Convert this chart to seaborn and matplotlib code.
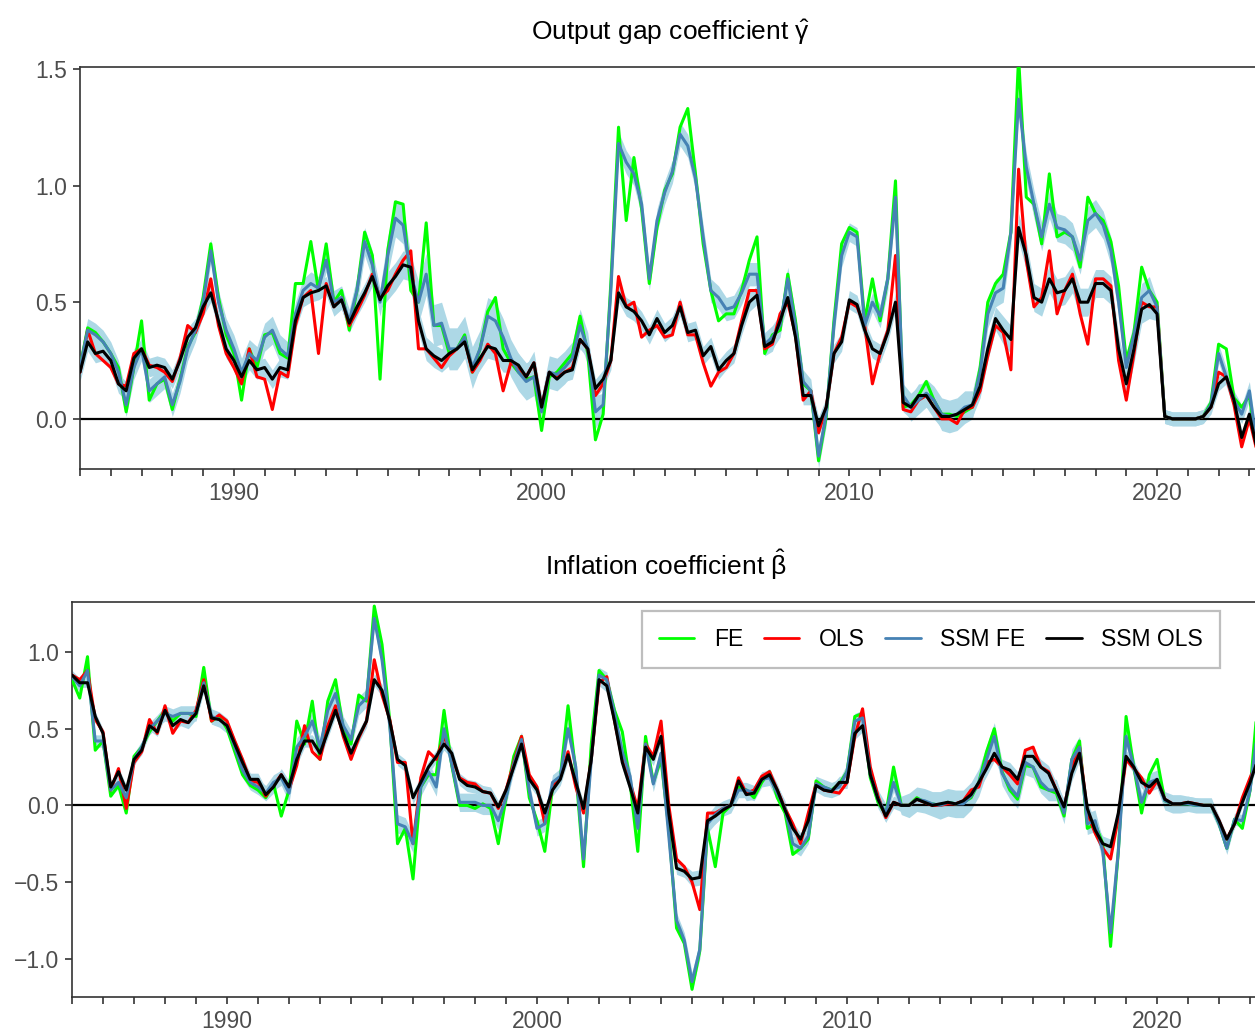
import numpy as np
import pandas as pd
import matplotlib
matplotlib.use("Agg")
import matplotlib.pyplot as plt
from matplotlib.lines import Line2D
import seaborn as sns

# Quarterly observation dates, 1985Q1 .. 2023Q2
quarters = 1985.0 + 0.25 * np.arange(154)
years = np.arange(1985, 2024)

# ---- Output gap coefficient (gamma) ----
gamma_fe = [
    0.22, 0.39, 0.37, 0.33,  0.28, 0.22, 0.03, 0.22,  0.42, 0.08, 0.15, 0.17,
    0.04, 0.17, 0.31, 0.37,  0.52, 0.75, 0.52, 0.36,  0.28, 0.08, 0.30, 0.22,
    0.36, 0.37, 0.28, 0.26,  0.58, 0.58, 0.76, 0.55,  0.75, 0.50, 0.55, 0.38,
    0.55, 0.80, 0.70, 0.17,  0.72, 0.93, 0.92, 0.55,  0.50, 0.84, 0.40, 0.40,
    0.28, 0.30, 0.36, 0.20,  0.30, 0.46, 0.52, 0.30,  0.24, 0.20, 0.17, 0.18,
    -0.05, 0.18, 0.20, 0.24, 0.28, 0.44, 0.28, -0.09, 0.02, 0.58, 1.25, 0.85,
    1.12, 0.90, 0.58, 0.82,  0.98, 1.05, 1.25, 1.33,  1.05, 0.75, 0.55, 0.42,
    0.45, 0.45, 0.55, 0.68,  0.78, 0.28, 0.36, 0.38,  0.62, 0.42, 0.15, 0.12,
    -0.18, 0.01, 0.42, 0.75, 0.82, 0.80, 0.42, 0.60,  0.42, 0.60, 1.02, 0.05,
    0.06, 0.10, 0.16, 0.08,  0.02, 0.02, 0.01, 0.03,  0.05, 0.22, 0.50, 0.58,
    0.62, 0.80, 1.55, 0.95,  0.92, 0.75, 1.05, 0.78,  0.80, 0.78, 0.65, 0.95,
    0.88, 0.85, 0.76, 0.57,  0.25, 0.37, 0.65, 0.55,  0.50, 0.01, 0.00, 0.00,
    0.00, 0.00, 0.01, 0.07,  0.32, 0.30, 0.09, 0.05,  0.10, -0.15,
]
gamma_ols = [
    0.20, 0.38, 0.28, 0.25,  0.22, 0.15, 0.14, 0.28,  0.30, 0.23, 0.22, 0.20,
    0.16, 0.26, 0.40, 0.37,  0.45, 0.60, 0.40, 0.28,  0.22, 0.15, 0.30, 0.18,
    0.17, 0.04, 0.20, 0.18,  0.40, 0.52, 0.55, 0.28,  0.58, 0.48, 0.52, 0.40,
    0.46, 0.53, 0.62, 0.52,  0.55, 0.62, 0.68, 0.72,  0.30, 0.30, 0.26, 0.22,
    0.27, 0.30, 0.34, 0.20,  0.25, 0.32, 0.28, 0.12,  0.24, 0.22, 0.18, 0.24,
    0.05, 0.20, 0.18, 0.20,  0.22, 0.34, 0.30, 0.10,  0.15, 0.25, 0.61, 0.48,
    0.50, 0.35, 0.38, 0.40,  0.35, 0.36, 0.50, 0.36,  0.36, 0.24, 0.14, 0.20,
    0.22, 0.28, 0.42, 0.55,  0.55, 0.30, 0.32, 0.45,  0.50, 0.36, 0.08, 0.12,
    -0.06, 0.05, 0.28, 0.35, 0.50, 0.48, 0.40, 0.15,  0.28, 0.38, 0.70, 0.04,
    0.03, 0.08, 0.10, 0.05,  0.00, 0.00, -0.02, 0.04, 0.05, 0.12, 0.27, 0.40,
    0.37, 0.21, 1.07, 0.68,  0.48, 0.52, 0.72, 0.45,  0.55, 0.62, 0.45, 0.32,
    0.60, 0.60, 0.57, 0.25,  0.08, 0.28, 0.50, 0.48,  0.48, 0.01, 0.00, 0.00,
    0.00, 0.00, 0.01, 0.05,  0.20, 0.18, 0.06, -0.12, 0.00, -0.14,
]
gamma_ssm_fe = [
    0.22, 0.38, 0.36, 0.33,  0.28, 0.20, 0.06, 0.22,  0.30, 0.12, 0.15, 0.18,
    0.06, 0.16, 0.30, 0.38,  0.50, 0.72, 0.50, 0.38,  0.30, 0.20, 0.28, 0.25,
    0.35, 0.38, 0.30, 0.27,  0.45, 0.55, 0.58, 0.56,  0.68, 0.50, 0.52, 0.42,
    0.55, 0.76, 0.66, 0.50,  0.70, 0.86, 0.83, 0.62,  0.50, 0.62, 0.40, 0.41,
    0.30, 0.30, 0.35, 0.22,  0.30, 0.44, 0.42, 0.35,  0.26, 0.20, 0.16, 0.18,
    0.03, 0.20, 0.19, 0.22,  0.26, 0.40, 0.30, 0.03,  0.06, 0.55, 1.18, 1.10,
    1.05, 0.92, 0.60, 0.85,  0.97, 1.06, 1.22, 1.17,  1.03, 0.78, 0.55, 0.52,
    0.47, 0.48, 0.54, 0.62,  0.62, 0.32, 0.35, 0.40,  0.60, 0.40, 0.16, 0.12,
    -0.16, 0.02, 0.40, 0.70, 0.80, 0.78, 0.40, 0.50,  0.44, 0.60, 0.95, 0.10,
    0.05, 0.08, 0.11, 0.08,  0.02, 0.01, 0.02, 0.05,  0.06, 0.20, 0.45, 0.54,
    0.56, 0.80, 1.37, 1.08,  0.92, 0.78, 0.92, 0.82,  0.81, 0.78, 0.68, 0.85,
    0.88, 0.83, 0.72, 0.50,  0.22, 0.36, 0.52, 0.55,  0.48, 0.01, 0.00, 0.00,
    0.00, 0.00, 0.01, 0.06,  0.28, 0.18, 0.08, 0.02,  0.12, -0.12,
]
gamma_ssm_ols = [
    0.20, 0.33, 0.28, 0.29,  0.25, 0.15, 0.12, 0.26,  0.30, 0.22, 0.23, 0.22,
    0.17, 0.25, 0.35, 0.39,  0.48, 0.54, 0.42, 0.30,  0.25, 0.18, 0.25, 0.21,
    0.22, 0.17, 0.22, 0.21,  0.42, 0.52, 0.54, 0.55,  0.57, 0.48, 0.51, 0.41,
    0.48, 0.54, 0.61, 0.51,  0.57, 0.61, 0.66, 0.65,  0.42, 0.30, 0.27, 0.25,
    0.28, 0.30, 0.33, 0.21,  0.26, 0.31, 0.30, 0.25,  0.25, 0.23, 0.18, 0.24,
    0.05, 0.20, 0.17, 0.20,  0.21, 0.34, 0.30, 0.13,  0.17, 0.25, 0.54, 0.48,
    0.46, 0.42, 0.36, 0.43,  0.37, 0.40, 0.48, 0.37,  0.38, 0.27, 0.31, 0.21,
    0.25, 0.28, 0.40, 0.50,  0.53, 0.31, 0.33, 0.42,  0.52, 0.35, 0.10, 0.10,
    -0.03, 0.05, 0.28, 0.33, 0.51, 0.49, 0.38, 0.30,  0.28, 0.37, 0.50, 0.07,
    0.05, 0.10, 0.10, 0.05,  0.01, 0.01, 0.02, 0.04,  0.06, 0.14, 0.30, 0.43,
    0.38, 0.34, 0.82, 0.70,  0.52, 0.50, 0.60, 0.54,  0.55, 0.60, 0.50, 0.50,
    0.58, 0.58, 0.55, 0.30,  0.15, 0.30, 0.47, 0.49,  0.45, 0.01, 0.00, 0.00,
    0.00, 0.00, 0.01, 0.05,  0.15, 0.18, 0.08, -0.08, 0.02, -0.13,
]
# yearly standard errors of the state-space estimates
gamma_se_fe = [0.05, 0.05, 0.05, 0.05, 0.05, 0.06, 0.06, 0.05, 0.05, 0.06,
               0.08, 0.09, 0.09, 0.08, 0.08, 0.07, 0.07, 0.05, 0.05, 0.05,
               0.05, 0.05, 0.05, 0.05, 0.05, 0.04, 0.05, 0.06, 0.07, 0.06,
               0.06, 0.06, 0.06, 0.06, 0.06, 0.03, 0.03, 0.04, 0.04]
gamma_se_ols = [0.04, 0.04, 0.04, 0.04, 0.04, 0.04, 0.04, 0.04, 0.04, 0.04,
                0.06, 0.05, 0.05, 0.05, 0.05, 0.04, 0.04, 0.04, 0.04, 0.04,
                0.04, 0.04, 0.04, 0.04, 0.04, 0.04, 0.04, 0.05, 0.05, 0.05,
                0.06, 0.06, 0.06, 0.06, 0.06, 0.03, 0.03, 0.03, 0.03]

# ---- Inflation coefficient (beta) ----
beta_fe = [
    0.82, 0.70, 0.97, 0.36,  0.42, 0.06, 0.13, -0.05, 0.32, 0.38, 0.48, 0.55,
    0.62, 0.55, 0.60, 0.60,  0.58, 0.90, 0.55, 0.58,  0.50, 0.35, 0.20, 0.13,
    0.10, 0.05, 0.14, -0.07, 0.10, 0.55, 0.40, 0.68,  0.30, 0.68, 0.82, 0.50,
    0.40, 0.72, 0.68, 1.30,  1.05, 0.55, -0.25, -0.15, -0.48, 0.12, 0.20, 0.20,
    0.62, 0.26, 0.00, 0.00,  -0.02, 0.01, -0.02, -0.25, 0.05, 0.32, 0.45, 0.05,
    -0.10, -0.30, 0.12, 0.18, 0.65, 0.22, -0.40, 0.40, 0.88, 0.82, 0.62, 0.48,
    0.15, -0.30, 0.45, 0.15, 0.30, -0.15, -0.80, -0.90, -1.20, -0.95, -0.15, -0.40,
    -0.05, 0.00, 0.12, 0.10, 0.05, 0.15, 0.22, 0.05,  -0.05, -0.32, -0.28, -0.22,
    0.16, 0.12, 0.10, 0.14,  0.22, 0.58, 0.60, 0.18,  0.02, -0.06, 0.25, 0.00,
    0.00, 0.05, 0.02, 0.01,  0.00, 0.02, 0.01, 0.02,  0.05, 0.15, 0.35, 0.50,
    0.22, 0.10, 0.04, 0.26,  0.25, 0.12, 0.10, 0.08,  -0.07, 0.30, 0.42, -0.15,
    -0.12, -0.25, -0.92, -0.30, 0.58, 0.25, -0.05, 0.20, 0.30, 0.03, 0.01, 0.01,
    0.01, 0.00, 0.00, 0.00,  -0.12, -0.28, -0.09, -0.15, 0.10, 0.68,
]
beta_ols = [
    0.85, 0.82, 0.88, 0.56,  0.48, 0.10, 0.24, -0.02, 0.28, 0.35, 0.56, 0.47,
    0.65, 0.47, 0.55, 0.54,  0.62, 0.82, 0.55, 0.59,  0.55, 0.42, 0.30, 0.16,
    0.15, 0.06, 0.13, 0.20,  0.10, 0.26, 0.52, 0.35,  0.30, 0.52, 0.65, 0.45,
    0.30, 0.44, 0.55, 0.95,  0.72, 0.56, 0.28, 0.28,  -0.25, 0.18, 0.35, 0.30,
    0.45, 0.32, 0.18, 0.15,  0.14, 0.09, 0.08, -0.02, 0.10, 0.28, 0.45, 0.20,
    0.12, -0.12, 0.12, 0.18, 0.35, 0.12, -0.05, 0.30, 0.80, 0.84, 0.55, 0.30,
    0.15, -0.02, 0.40, 0.32, 0.55, 0.00, -0.35, -0.40, -0.50, -0.68, -0.05, -0.05,
    -0.02, 0.00, 0.18, 0.08, 0.10, 0.19, 0.22, 0.10,  -0.02, -0.12, -0.25, -0.05,
    0.14, 0.10, 0.09, 0.08,  0.15, 0.45, 0.63, 0.25,  0.06, -0.08, 0.02, 0.00,
    0.00, 0.04, 0.02, 0.00,  0.00, 0.01, 0.01, 0.03,  0.10, 0.12, 0.28, 0.30,
    0.25, 0.20, 0.14, 0.36,  0.38, 0.25, 0.22, 0.10,  -0.02, 0.24, 0.38, -0.05,
    -0.18, -0.28, -0.35, -0.08, 0.30, 0.24, 0.18, 0.08, 0.16, 0.04, 0.01, 0.01,
    0.02, 0.01, 0.00, 0.00,  -0.10, -0.22, -0.12, 0.05, 0.18, 0.30,
]
beta_ssm_fe = [
    0.84, 0.78, 0.88, 0.42,  0.42, 0.10, 0.15, 0.05,  0.30, 0.38, 0.50, 0.55,
    0.60, 0.58, 0.60, 0.60,  0.60, 0.80, 0.58, 0.56,  0.52, 0.38, 0.23, 0.15,
    0.12, 0.08, 0.15, 0.18,  0.08, 0.38, 0.45, 0.55,  0.38, 0.62, 0.73, 0.52,
    0.43, 0.65, 0.70, 1.22,  0.95, 0.52, -0.12, -0.14, -0.25, 0.12, 0.22, 0.12,
    0.50, 0.27, 0.02, 0.02,  0.02, 0.00, 0.00, -0.10, 0.05, 0.27, 0.43, 0.10,
    -0.15, -0.12, 0.15, 0.19, 0.50, 0.25, -0.35, 0.30, 0.85, 0.82, 0.60, 0.35,
    0.19, -0.15, 0.40, 0.14, 0.34, -0.20, -0.75, -0.88, -1.15, -0.94, -0.12, -0.06,
    -0.02, 0.00, 0.10, 0.10, 0.08, 0.17, 0.18, 0.08,  -0.02, -0.25, -0.28, -0.20,
    0.14, 0.12, 0.10, 0.12,  0.22, 0.55, 0.57, 0.20,  0.04, -0.05, 0.15, 0.00,
    0.00, 0.04, 0.03, 0.01,  0.00, 0.02, 0.01, 0.01,  0.06, 0.15, 0.30, 0.45,
    0.21, 0.12, 0.06, 0.28,  0.25, 0.15, 0.10, 0.10,  -0.05, 0.30, 0.38, -0.12,
    -0.10, -0.30, -0.83, -0.30, 0.45, 0.25, 0.02, 0.15, 0.17, 0.03, 0.01, 0.01,
    0.01, 0.00, 0.00, 0.00,  -0.12, -0.28, -0.09, -0.10, 0.10, 0.50,
]
beta_ssm_ols = [
    0.85, 0.80, 0.80, 0.58,  0.47, 0.12, 0.22, 0.10,  0.30, 0.36, 0.52, 0.48,
    0.62, 0.52, 0.56, 0.54,  0.60, 0.78, 0.57, 0.56,  0.52, 0.40, 0.28, 0.17,
    0.17, 0.07, 0.12, 0.20,  0.12, 0.30, 0.42, 0.42,  0.34, 0.48, 0.62, 0.47,
    0.34, 0.45, 0.55, 0.82,  0.75, 0.55, 0.30, 0.26,  0.05, 0.15, 0.25, 0.32,
    0.40, 0.34, 0.17, 0.13,  0.12, 0.09, 0.08, -0.01, 0.10, 0.25, 0.40, 0.17,
    0.10, -0.05, 0.10, 0.17, 0.33, 0.15, -0.02, 0.30, 0.82, 0.78, 0.55, 0.28,
    0.12, -0.05, 0.38, 0.30, 0.45, -0.05, -0.41, -0.43, -0.48, -0.47, -0.10, -0.07,
    -0.03, 0.00, 0.16, 0.07, 0.08, 0.17, 0.20, 0.10,  -0.03, -0.15, -0.22, -0.10,
    0.13, 0.10, 0.09, 0.15,  0.15, 0.47, 0.52, 0.20,  0.04, -0.07, 0.02, 0.00,
    0.00, 0.04, 0.02, 0.00,  0.01, 0.02, 0.01, 0.03,  0.07, 0.15, 0.24, 0.34,
    0.25, 0.23, 0.17, 0.32,  0.32, 0.25, 0.21, 0.10,  -0.01, 0.21, 0.34, -0.02,
    -0.16, -0.25, -0.27, -0.05, 0.32, 0.25, 0.15, 0.12, 0.17, 0.04, 0.01, 0.01,
    0.02, 0.01, 0.00, 0.00,  -0.10, -0.22, -0.12, 0.02, 0.15, 0.30,
]
beta_se_fe = [0.04, 0.04, 0.04, 0.05, 0.05, 0.05, 0.05, 0.06, 0.06, 0.06,
              0.06, 0.06, 0.06, 0.06, 0.05, 0.05, 0.05, 0.05, 0.05, 0.05,
              0.06, 0.05, 0.05, 0.05, 0.05, 0.05, 0.06, 0.08, 0.09, 0.09,
              0.08, 0.07, 0.07, 0.07, 0.06, 0.06, 0.05, 0.04, 0.04]
beta_se_ols = [0.03, 0.03, 0.03, 0.04, 0.04, 0.04, 0.04, 0.04, 0.04, 0.04,
               0.04, 0.04, 0.04, 0.04, 0.04, 0.04, 0.04, 0.04, 0.04, 0.04,
               0.05, 0.04, 0.04, 0.04, 0.04, 0.04, 0.04, 0.05, 0.05, 0.05,
               0.05, 0.05, 0.05, 0.05, 0.04, 0.04, 0.04, 0.03, 0.03]

models = ["FE", "OLS", "SSM FE", "SSM OLS"]
palette = {"FE": "#00FF00", "OLS": "#FF0000", "SSM FE": "#4682B4", "SSM OLS": "#000000"}
band_color = "#ADD8E6"

sns.set_theme(style="ticks")
plt.rcParams["font.family"] = ["Liberation Sans", "DejaVu Sans"]
plt.rcParams["mathtext.fontset"] = "custom"
plt.rcParams["mathtext.rm"] = "Liberation Sans"
plt.rcParams["mathtext.it"] = "Liberation Sans:italic"
plt.rcParams["mathtext.bf"] = "Liberation Sans:bold"
plt.rcParams["axes.edgecolor"] = "#333333"
plt.rcParams["axes.linewidth"] = 1.2


def long_frame(fe, ols, ssm_fe, ssm_ols):
    parts = []
    for name, vals in zip(models, (fe, ols, ssm_fe, ssm_ols)):
        parts.append(pd.DataFrame({"date": quarters, "coef": vals, "model": name}))
    return pd.concat(parts, ignore_index=True)


def draw_panel(ax, fe, ols, ssm_fe, ssm_ols, se_fe, se_ols, xlim, ylim, yticks, ylabels):
    n = len(quarters)
    for est, se in ((ssm_fe, se_fe), (ssm_ols, se_ols)):
        est = np.asarray(est)
        half = np.repeat(np.asarray(se), 4)[:n]
        ax.fill_between(quarters, est - half, est + half, color=band_color, lw=0, zorder=1)
    ax.axhline(0, color="black", lw=1.6, zorder=2)
    sns.lineplot(data=long_frame(fe, ols, ssm_fe, ssm_ols), x="date", y="coef",
                 hue="model", hue_order=models, palette=palette, linewidth=2.2,
                 estimator=None, sort=False, legend=False, ax=ax, zorder=3)
    ax.set_xlim(*xlim)
    ax.set_ylim(*ylim)
    ax.set_xticks(years)
    ax.set_xticklabels([str(y) if y % 10 == 0 else "" for y in years])
    ax.set_yticks(yticks)
    ax.set_yticklabels(ylabels)
    ax.set_xlabel("")
    ax.set_ylabel("")
    ax.tick_params(axis="both", direction="out", length=5, width=1.2, color="#333333",
                   labelsize=16.5, labelcolor="#4D4D4D", pad=4)
    for side in ("top", "right", "left", "bottom"):
        ax.spines[side].set_visible(True)
        ax.spines[side].set_color("#333333")
        ax.spines[side].set_linewidth(1.2)


W, H = 1255, 1034
fig = plt.figure(figsize=(W / 100, H / 100), dpi=100)
ax_top = fig.add_axes([80 / W, 1 - 469 / H, 1182 / W, 402 / H])
ax_bot = fig.add_axes([72 / W, 1 - 997 / H, 1188 / W, 395.5 / H])

draw_panel(ax_top, gamma_fe, gamma_ols, gamma_ssm_fe, gamma_ssm_ols,
           gamma_se_fe, gamma_se_ols, (1985, 2023.41), (-0.215, 1.508),
           [0.0, 0.5, 1.0, 1.5], ["0.0", "0.5", "1.0", "1.5"])
draw_panel(ax_bot, beta_fe, beta_ols, beta_ssm_fe, beta_ssm_ols,
           beta_se_fe, beta_se_ols, (1985, 2023.32), (-1.25, 1.33),
           [-1.0, -0.5, 0.0, 0.5, 1.0], ["\u22121.0", "\u22120.5", "0.0", "0.5", "1.0"])

fig.text(671 / W, 1 - 40 / H, r"Output gap coefficient $\hat{\mathrm{\gamma}}$",
         ha="center", va="baseline", fontsize=19, color="black")
fig.text(666 / W, 1 - 575 / H, r"Inflation coefficient $\hat{\mathrm{\beta}}$",
         ha="center", va="baseline", fontsize=19, color="black")

handles = [Line2D([0], [0], color=palette[m], lw=2.0) for m in models]
leg = ax_bot.legend(handles, models, loc="upper right",
                    bbox_to_anchor=(1220 / W, 1 - 611 / H), bbox_transform=fig.transFigure,
                    borderaxespad=0, ncol=4, frameon=True, fancybox=False,
                    edgecolor="#BEBEBE", framealpha=1, fontsize=16.5,
                    handlelength=1.55, handletextpad=0.85, columnspacing=0.9,
                    borderpad=0.75)
leg.get_frame().set_linewidth(1.6)
for t in leg.get_texts():
    t.set_color("black")

fig.savefig("out.png", dpi=100)
